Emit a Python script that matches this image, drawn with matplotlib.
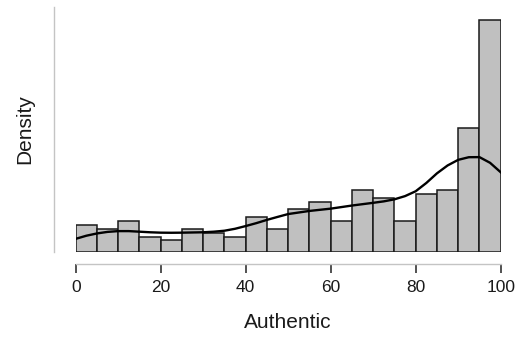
import numpy as np
import matplotlib
matplotlib.use("Agg")
import matplotlib.pyplot as plt

plt.rcParams['font.family'] = ['Liberation Sans', 'DejaVu Sans']

# histogram of Authentic scores, 5-point bins
bin_edges = [0, 5, 10, 15, 20, 25, 30, 35, 40, 45, 50,
             55, 60, 65, 70, 75, 80, 85, 90, 95, 100]
bin_counts = [7, 6, 8, 4, 3, 6, 5, 4, 9, 6,
              11, 13, 8, 16, 14, 8, 15, 16, 32, 60]

# kernel density estimate, already on the density scale
kde_x = [0, 2.5, 5, 7.5, 10, 12.5, 15, 17.5, 20, 22.5, 25, 27.5, 30, 32.5,
         35, 37.5, 40, 42.5, 45, 47.5, 50, 55, 60, 65, 70, 72.5, 75, 77.5,
         80, 82.5, 85, 87.5, 90, 92.5, 95, 97.5, 100]
kde_y = [0.00271, 0.00335, 0.00382, 0.00414, 0.00430, 0.00430, 0.00418,
         0.00406, 0.00398, 0.00396, 0.00398, 0.00402, 0.00406, 0.00418,
         0.00438, 0.00478, 0.00534, 0.00594, 0.00661, 0.00722, 0.00781,
         0.00845, 0.00892, 0.00956, 0.01012, 0.01042, 0.01084, 0.01150,
         0.01250, 0.01420, 0.01618, 0.01780, 0.01896, 0.01950, 0.01952,
         0.01835, 0.01641]

bin_mids = [(a + b) / 2 for a, b in zip(bin_edges[:-1], bin_edges[1:])]

fig = plt.figure(figsize=(5.21, 3.38), dpi=100)
ax = fig.add_axes([0.1453, 0.2544, 0.8157, 0.7249])

ax.hist(bin_mids, bins=bin_edges, weights=bin_counts, density=True,
        color='#c0c0c0', edgecolor='#1a1a1a', linewidth=1.1)
ax.plot(kde_x, kde_y, color='black', linewidth=1.7)

ax.set_xlim(0, 100)
ax.set_ylim(0, 0.0504)

# R-style detached axes
for side in ['top', 'right']:
    ax.spines[side].set_visible(False)
ax.spines['bottom'].set_position(('outward', 8.6))
ax.spines['left'].set_position(('outward', 15.3))
ax.spines['bottom'].set_bounds(0, 100)
ax.spines['bottom'].set_color('#c4c4c4')
ax.spines['left'].set_color('#c4c4c4')
ax.spines['bottom'].set_linewidth(1.0)
ax.spines['left'].set_linewidth(1.0)

ax.set_xticks([0, 20, 40, 60, 80, 100])
ax.tick_params(axis='x', length=6.5, width=1.2, color='#333333',
               labelsize=12.5, pad=5, labelcolor='#1a1a1a')
ax.set_yticks([])

fig.text(0.5525, 0.029, 'Authentic', ha='center', va='baseline',
         fontsize=15, color='#1a1a1a')
fig.text(0.047, 0.618, 'Density', ha='center', va='center',
         rotation=90, fontsize=15, color='#1a1a1a')

fig.savefig('out.png', dpi=100)
